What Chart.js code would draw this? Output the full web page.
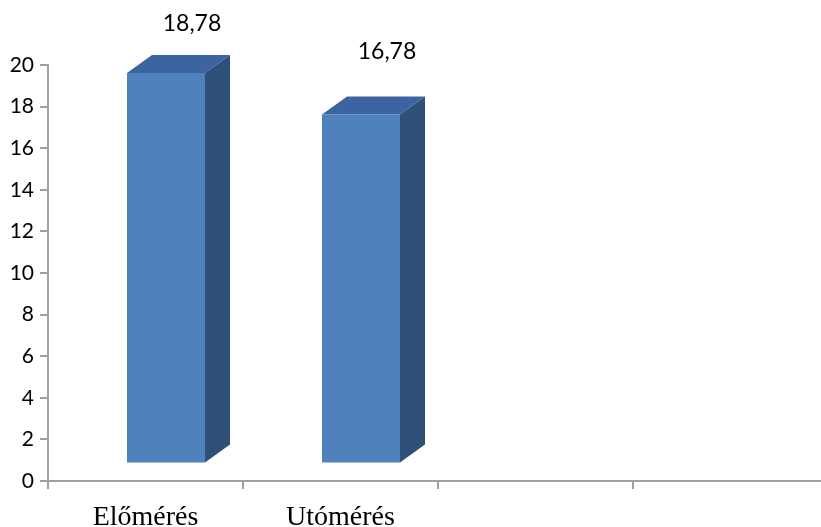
<!DOCTYPE html>
<html>
<head>
<meta charset="utf-8">
<script src="https://cdn.jsdelivr.net/npm/chart.js@4"></script>
<style>
  body { margin: 0; background: #fff; overflow: hidden; }
  #wrap { width: 821px; height: 527px; overflow: hidden; }
</style>
</head>
<body>
<div id="wrap"><canvas id="chart" width="828" height="527"></canvas></div>
<script>
// data
const categories = ['Előmérés', 'Utómérés', '', ''];
const values = [18.78, 16.78];
const valueLabels = ['18,78', '16,78'];
const yTicks = [0, 2, 4, 6, 8, 10, 12, 14, 16, 18, 20];

// fake 3d look, like the old office charts
const front = { dx: 20.5, dy: -17.5 };
const depth = { dx: 25, dy: -18 };

const bar3d = {
  id: 'bar3d',
  beforeDatasetsDraw(chart) {
    const ctx = chart.ctx;
    chart.getDatasetMeta(0).data.forEach(function(bar) {
      const x1 = bar.x - bar.width / 2 + front.dx;
      const x2 = bar.x + bar.width / 2 + front.dx;
      const top = bar.y + front.dy;
      const bottom = bar.base + front.dy;
      // top face
      ctx.fillStyle = '#3c64a0';
      ctx.beginPath();
      ctx.moveTo(x1, top);
      ctx.lineTo(x1 + depth.dx, top + depth.dy);
      ctx.lineTo(x2 + depth.dx, top + depth.dy);
      ctx.lineTo(x2, top);
      ctx.closePath();
      ctx.fill();
      // side face
      ctx.fillStyle = '#2f5079';
      ctx.beginPath();
      ctx.moveTo(x2, top);
      ctx.lineTo(x2 + depth.dx, top + depth.dy);
      ctx.lineTo(x2 + depth.dx, bottom + depth.dy);
      ctx.lineTo(x2, bottom);
      ctx.closePath();
      ctx.fill();
    });
    ctx.save();
    ctx.translate(front.dx, front.dy);
  },
  afterDatasetsDraw(chart) {
    const ctx = chart.ctx;
    ctx.restore();
    ctx.save();
    ctx.fillStyle = '#000';
    ctx.font = '23px Lato';
    ctx.textAlign = 'center';
    ctx.textBaseline = 'middle';
    chart.getDatasetMeta(0).data.forEach(function(bar, i) {
      const top = bar.y + front.dy;
      ctx.fillText(valueLabels[i], bar.x + front.dx + 26, Math.max(top - 63, 24));
    });
    ctx.restore();
  }
};

new Chart(document.getElementById('chart'), {
  type: 'bar',
  data: {
    labels: categories,
    datasets: [{
      data: values,
      backgroundColor: '#4f81bd',
      borderWidth: 0,
      categoryPercentage: 1,
      barPercentage: 0.4
    }]
  },
  options: {
    responsive: false,
    animation: false,
    layout: { padding: { left: 0, top: 65, right: 0, bottom: 0 } },
    plugins: { legend: { display: false }, tooltip: { enabled: false } },
    scales: {
      x: {
        afterFit(axis) { axis.height = 46; },
        border: { color: '#a0a0a0', width: 2 },
        grid: { drawOnChartArea: false, color: '#a0a0a0', tickLength: 8, lineWidth: 2 },
        ticks: {
          padding: 15,
          maxRotation: 0,
          color: '#000',
          font: { family: '"Liberation Serif"', size: 28, lineHeight: 1 }
        }
      },
      y: {
        min: 0,
        max: 20,
        afterBuildTicks(axis) { axis.ticks = yTicks.map(v => ({ value: v })); },
        afterFit(axis) { axis.width = 48; },
        border: { color: '#a0a0a0', width: 2 },
        grid: { drawOnChartArea: false, color: '#a0a0a0', tickLength: 8, lineWidth: 2 },
        ticks: {
          padding: 6,
          color: '#000',
          font: { family: 'Lato', size: 21 }
        }
      }
    }
  },
  plugins: [bar3d]
});
</script>
</body>
</html>
